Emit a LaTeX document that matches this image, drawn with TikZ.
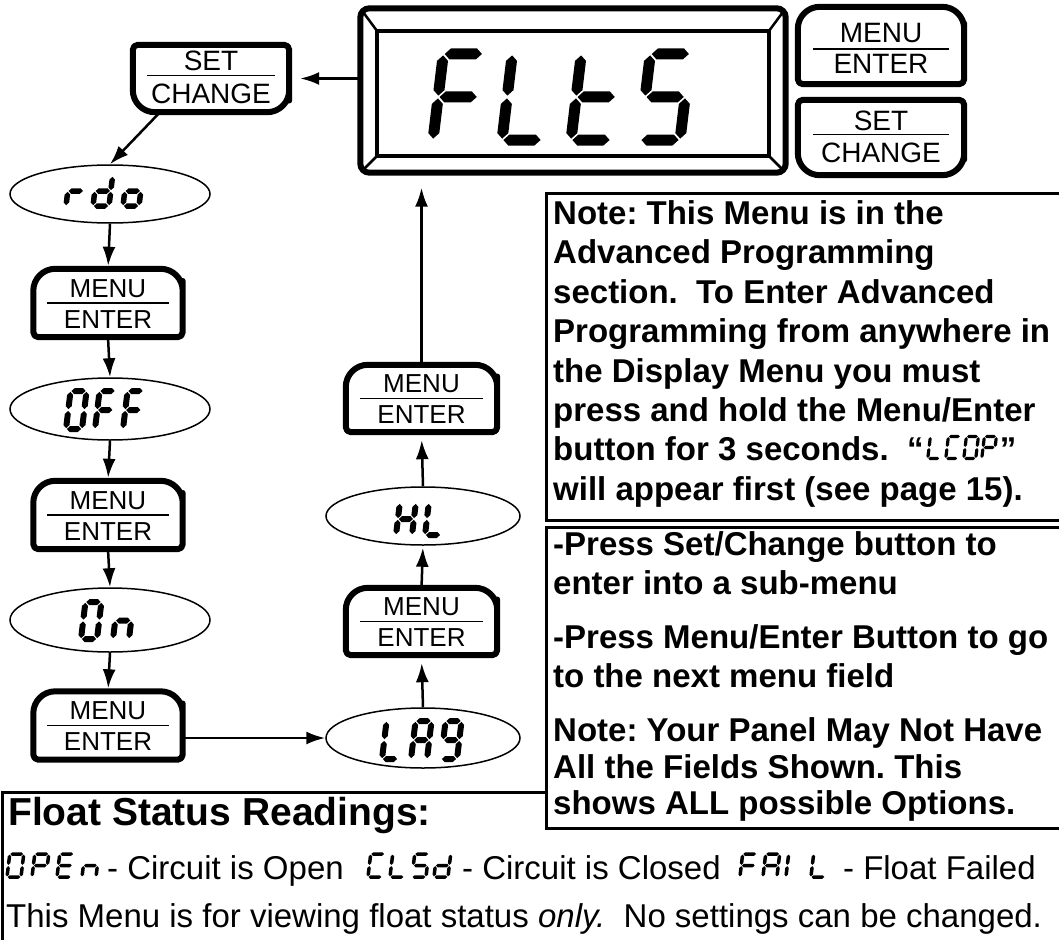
\documentclass[tikz,border=0pt]{standalone}
\usepackage{fontspec}
\setmainfont{Liberation Sans}
\usetikzlibrary{shapes.geometric,arrows.meta,calc}
\newcommand\fsz[1]{\fontsize{#1}{#1}\selectfont}
\frenchspacing
% seven-segment glyph helpers
\newcommand\hseg[1]{\fill (\sgp,#1) -- (\sgp+\st,#1+\st) -- (\sW-\sgp-\st,#1+\st) -- (\sW-\sgp,#1) -- (\sW-\sgp-\st,#1-\st) -- (\sgp+\st,#1-\st) -- cycle;}
\newcommand\vseg[3]{\fill (#1,#2+\sgp) -- (#1+\st,#2+\sgp+\st) -- (#1+\st,#3-\sgp-\st) -- (#1,#3-\sgp) -- (#1-\st,#3-\sgp-\st) -- (#1-\st,#2+\sgp+\st) -- cycle;}
\def\sega{\hseg{\sH}}
\def\segd{\hseg{0}}
\def\segg{\hseg{\sHh}}
\def\segb{\vseg{\sW}{\sHh}{\sH}}
\def\segc{\vseg{\sW}{0}{\sHh}}
\def\sege{\vseg{0}{0}{\sHh}}
\def\segf{\vseg{0}{\sHh}{\sH}}
\newcommand\segchar[5]{%
 \begin{scope}[shift={(#1)},yscale=-1,xslant=-0.12]
 \pgfmathsetmacro\sW{#2}\pgfmathsetmacro\sH{#3}\pgfmathsetmacro\sHh{#3/2}%
 \pgfmathsetmacro\st{#4/2}\pgfmathsetmacro\sgp{#4*0.1+0.3}%
 \foreach \sx in {#5}{\csname seg\sx\endcsname}%
 \end{scope}}
% buttons
\newcommand\menubtn[7]{%
 \node[minimum width=#4, minimum height=#5, inner sep=0] (#1) at (#2,#3) {};
 \draw[btnline] (#1.south) [rounded corners=5] -- (#1.south west) -- (#1.west) [rounded corners=22] -- (#1.north west) -- (#1.north) -- (#1.north east) -- (#1.east) [rounded corners=5] -- (#1.south east) -- cycle;
 \node[btntext, font=\fsz{#6}] (#1-t) at ([yshift={6-#7}]#1.center) {MENU};
 \draw[line width=1.8] ([xshift={-0.41*#4}, yshift={-#7}]#1.center) -- ([xshift={0.41*#4}, yshift={-#7}]#1.center);
 \node[btntext, font=\fsz{#6}] (#1-b) at ([yshift={-25-#7}]#1.center) {ENTER};
}
\newcommand\setbtn[7]{%
 \node[minimum width=#4, minimum height=#5, inner sep=0] (#1) at (#2,#3) {};
 \draw[btnline] (#1.north) [rounded corners=5] -- (#1.north west) -- (#1.west) [rounded corners=22] -- (#1.south west) -- (#1.south) -- (#1.south east) -- (#1.east) [rounded corners=5] -- (#1.north east) -- cycle;
 \node[btntext, font=\fsz{#6}] (#1-t) at ([yshift={7.5-#7}]#1.center) {SET};
 \draw[line width=1.8] ([xshift={-0.41*#4}, yshift={3-#7}]#1.center) -- ([xshift={0.41*#4}, yshift={3-#7}]#1.center);
 \node[btntext, font=\fsz{#6}] (#1-b) at ([yshift={-25-#7}]#1.center) {CHANGE};
}
\begin{document}
\begin{tikzpicture}[x=1pt,y=-1pt,
  btnline/.style={line width=6, line join=round},
  btntext/.style={anchor=base, inner sep=0},
  oval/.style={ellipse, draw, line width=1.5, inner sep=0},
  conn/.style={line width=2.5, -{Latex[length=19pt,width=13pt]}},
  boxline/.style={line width=3},
  note/.style={anchor=base west, inner sep=0, font=\fsz{33}\bfseries},
  plain/.style={anchor=base west, inner sep=0, font=\fsz{33}}]
\useasboundingbox (0,0) rectangle (1059,939);

% ---------- display ----------
\node[minimum width=425, minimum height=164, inner sep=0] (disp) at (573,90.5) {};
\node[minimum width=391, minimum height=124, inner sep=0] (win) at (573,93.5) {};
\draw[line width=6, rounded corners=9] (disp.south west) rectangle (disp.north east);
\draw[line width=4] (win.south west) rectangle (win.north east);
\draw[line width=2.5] ($(disp.north west)!0.1!(win.north west)$) -- (win.north west);
\draw[line width=2.5] ($(disp.north east)!0.1!(win.north east)$) -- (win.north east);
\draw[line width=2.5] ($(disp.south west)!0.1!(win.south west)$) -- (win.south west);
\draw[line width=2.5] ($(disp.south east)!0.1!(win.south east)$) -- (win.south east);
\segchar{433,140}{40}{86}{11}{a,f,e,g}
\segchar{502,140}{40}{86}{11}{f,e,d}
\segchar{571,140}{40}{86}{11}{f,e,d,g}
\segchar{640,140}{40}{86}{11}{a,f,g,c,d}

% ---------- buttons ----------
\menubtn{mT}{881}{45.5}{166}{77}{28}{3.5}
\setbtn{sT}{881}{137.5}{166}{75}{28}{0}
\setbtn{sL}{211}{78.5}{156}{67}{28}{0}
\menubtn{mA}{108}{303}{149}{68}{26}{0}
\menubtn{mB}{108}{515}{149}{68}{26}{0}
\menubtn{mC}{108}{725.5}{149}{68}{26}{0}
\menubtn{mD}{421.5}{621.5}{151}{67}{26}{0}
\menubtn{mE}{421.5}{398.5}{151}{67}{26}{0}

% ---------- ovals ----------
\node[oval, minimum width=200, minimum height=58] (rdo) at (110,194) {};
\node[oval, minimum width=200, minimum height=62] (off) at (110,409) {};
\node[oval, minimum width=200, minimum height=64] (on) at (110,620) {};
\node[oval, minimum width=194, minimum height=58] (hl) at (423,516) {};
\node[oval, minimum width=194, minimum height=60] (lag) at (423,738) {};
% rdo
\segchar{66,206}{16}{30}{5.5}{e,g}
\segchar{93,206}{16}{30}{5.5}{b,c,d,e,g}
\segchar{123,206}{16}{30}{5.5}{c,d,e,g}
% OFF
\segchar{66,429}{16}{38}{6}{a,b,c,d,e,f}
\segchar{95,429}{16}{38}{6}{a,f,e,g}
\segchar{123,429}{16}{38}{6}{a,f,e,g}
% On
\segchar{81,639}{16}{37}{6}{a,b,c,d,e,f}
\segchar{113,639}{16}{37}{6}{e,g,c}
% HL
\segchar{396,535}{16}{32}{6}{b,c,e,f,g}
\segchar{425,535}{16}{32}{6}{f,e,d}
% LA9
\segchar{382,759}{16}{38}{6}{f,e,d}
\segchar{411,759}{16}{38}{6}{a,b,c,e,f,g}
\segchar{441,759}{16}{38}{6}{a,b,c,d,f,g}

% ---------- connectors ----------
\draw[conn, shorten >=11] (disp.west |- sL.east) -- (sL.east);
\draw[conn] ([xshift=-51]sL.south) -- (rdo.north);
\draw[conn, shorten >=3] (rdo.south) -- (mA.north);
\draw[conn] (mA.south) -- (off.north);
\draw[conn, shorten >=3] (off.south) -- (mB.north);
\draw[conn] (mB.south) -- (on.north);
\draw[conn, shorten >=3] (on.south) -- (mC.north);
\draw[conn] (mC.east |- lag.west) -- (lag.west);
\draw[conn, shorten >=8] (lag.north) -- (mD.south);
\draw[conn, shorten >=2] (mD.north) -- (hl.south);
\draw[conn, shorten >=8] (hl.north) -- (mE.south);
\draw[conn, shorten >=15] (mE.north) -- (mE.north |- disp.south);

% ---------- note boxes ----------
\draw[boxline] (546,193) rectangle (1075,520);
\draw[boxline] (546,527) rectangle (1075,828);
\draw[boxline] (2,950) -- (2,792) -- (546,792);

\node[note] (n1) at (553,224) {Note: This Menu is in the};
\node[note] (n2) at (553,263) {Advanced Programming};
\node[note] (n3) at (553,303) {section.\ \ To Enter Advanced};
\node[note] (n4) at (553,342) {Programming from anywhere in};
\node[note] (n5) at (553,382) {the Display Menu you must};
\node[note] (n6) at (553,421) {press and hold the Menu/Enter};
\node[note] (n7) at (553,460) {button for 3 seconds.\ \ “};
\segchar{$(n7.base east)+(4,-1.5)$}{12}{22}{3.2}{f,e,d}
\segchar{$(n7.base east)+(22,-1.5)$}{12}{22}{3.2}{a,d,e,f}
\segchar{$(n7.base east)+(40,-1.5)$}{12}{22}{3.2}{a,b,c,d,e,f}
\segchar{$(n7.base east)+(58,-1.5)$}{12}{22}{3.2}{a,b,e,f,g}
\node[note] (n7q) at ($(n7.base east)+(76,0)$) {”};
\node[note] (n8) at (553,500) {will appear first (see page 15).};

\node[note] (p1) at (553,555) {-Press Set/Change button to};
\node[note] (p2) at (553,594) {enter into a sub-menu};
\node[note] (p3) at (553,648) {-Press Menu/Enter Button to go};
\node[note] (p4) at (553,687) {to the next menu field};
\node[note] (p5) at (553,741) {Note: Your Panel May Not Have};
\node[note] (p6) at (553,778) {All the Fields Shown. This};
\node[note] (p7) at (553,814) {shows ALL possible Options.};

% ---------- float status box ----------
\node[anchor=base west, inner sep=0, font=\fsz{39}\bfseries] (fs) at (8,825) {Float Status Readings:};
% OPEn
\segchar{7,877}{14}{23}{3.5}{a,b,c,d,e,f}
\segchar{32,877}{14}{23}{3.5}{a,b,e,f,g}
\segchar{57,877}{14}{23}{3.5}{a,d,e,f,g}
\segchar{82,877}{14}{23}{3.5}{e,g,c}
\node[plain] (t1) at (107,879) {- Circuit is Open};
% CLSd
\segchar{$(t1.base east)+(24,-2)$}{14}{23}{3.5}{a,d,e,f}
\segchar{$(t1.base east)+(46,-2)$}{14}{23}{3.5}{f,e,d}
\segchar{$(t1.base east)+(68,-2)$}{14}{23}{3.5}{a,f,g,c,d}
\segchar{$(t1.base east)+(90,-2)$}{14}{23}{3.5}{b,c,d,e,g}
\node[plain] (t2) at ($(t1.base east)+(118,0)$) {- Circuit is Closed};
% FAI L
\segchar{$(t2.base east)+(19,-2)$}{14}{23}{3.5}{a,f,e,g}
\segchar{$(t2.base east)+(42,-2)$}{14}{23}{3.5}{a,b,c,e,f,g}
\segchar{$(t2.base east)+(65,-2)$}{14}{23}{3.5}{e,f}
\segchar{$(t2.base east)+(90,-2)$}{14}{23}{3.5}{f,e,d}
\node[plain] (t3) at ($(t2.base east)+(122,0)$) {- Float Failed};
\node[plain] (t4) at (6,927) {This Menu is for viewing float status \textit{only.}\ \ No settings can be changed.};
\end{tikzpicture}
\end{document}
